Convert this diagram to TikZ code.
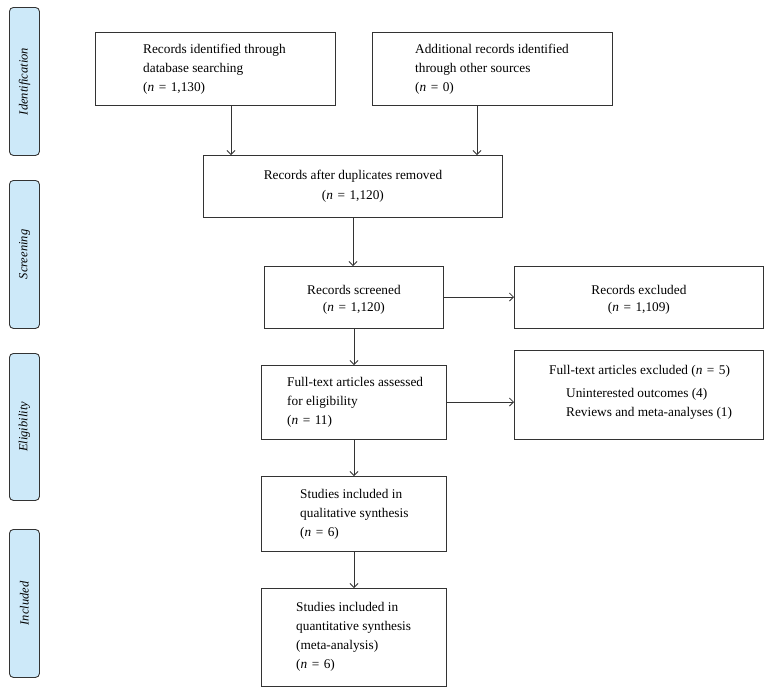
\documentclass[tikz,border=0pt]{standalone}
\usepackage{fontspec}
\setmainfont{Liberation Serif}
\usetikzlibrary{arrows.meta,positioning,calc}
\definecolor{sidefill}{HTML}{CDE9F9}
\definecolor{linegray}{HTML}{333333}
\newcommand\myeq{\hspace{4.5pt}=\hspace{4.5pt}}
\tikzset{
  box/.style={draw=linegray, line width=0.9pt, minimum width=#1, anchor=north west, inner sep=0pt},
  sidebox/.style={draw=linegray, line width=0.9pt, fill=sidefill, rounded corners=4pt, anchor=north west, inner sep=0pt, minimum width=30pt},
  sidetext/.style={rotate=90, font=\fontsize{12.5}{14}\selectfont\itshape},
  txt/.style={align=left, font=\fontsize{13.3}{19}\selectfont, inner sep=0pt},
  ctxt/.style={align=center, font=\fontsize{13.3}{19}\selectfont, inner sep=0pt},
  arr/.style={draw=linegray, line width=0.8pt, -{Straight Barb[length=4pt,width=8pt]}},
}
\begin{document}
\begin{tikzpicture}[x=1pt,y=-1pt]
\useasboundingbox (0,0) rectangle (772,694);
% side labels
\node[sidebox, minimum height=148pt] (s1) at (9,7) {};
\node[sidetext] (s1t) at (s1.center) {Identification};
\node[sidebox, minimum height=148pt] (s2) at (9,180) {};
\node[sidetext] (s2t) at (s2.center) {Screening};
\node[sidebox, minimum height=147pt] (s3) at (9,353) {};
\node[sidetext] (s3t) at (s3.center) {Eligibility};
\node[sidebox, minimum height=148pt] (s4) at (9,529) {};
\node[sidetext] (s4t) at (s4.center) {Included};
% boxes
\node[box=240pt, minimum height=73pt] (b1) at (95,32) {};
\node[txt, anchor=west] (b1t) at ($(b1.west)+(48,0)$) {Records identified through\\database searching\\(\textit{n}\myeq1,130)};
\node[box=240pt, minimum height=73pt] (b2) at (372,32) {};
\node[txt, anchor=west] (b2t) at ($(b2.west)+(43,0)$) {Additional records identified\\through other sources\\(\textit{n}\myeq0)};
\node[box=299pt, minimum height=62pt] (b3) at (203,155) {};
\node[ctxt, font=\fontsize{13.3}{20}\selectfont] (b3t) at (b3.center) {Records after duplicates removed\\(\textit{n}\myeq1,120)};
\node[box=179pt, minimum height=62pt] (b4) at (264,266) {};
\node[ctxt, font=\fontsize{13.3}{17}\selectfont] (b4t) at ($(b4.center)+(0,2)$) {Records screened\\(\textit{n}\myeq1,120)};
\node[box=249pt, minimum height=62pt] (b5) at (514,266) {};
\node[ctxt, font=\fontsize{13.3}{17}\selectfont] (b5t) at ($(b5.center)+(0,2)$) {Records excluded\\(\textit{n}\myeq1,109)};
\node[box=185pt, minimum height=74pt] (b6) at (261,365) {};
\node[txt, anchor=west] (b6t) at ($(b6.west)+(26,0)$) {Full-text articles assessed\\for eligibility\\(\textit{n}\myeq11)};
\node[box=249pt, minimum height=89pt] (b7) at (514,350) {};
\node[txt, anchor=north west] (b7t) at ($(b7.north west)+(35,15)$) {Full-text articles excluded (\textit{n}\myeq5)\\[4pt]\hspace*{17pt}Uninterested outcomes (4)\\\hspace*{17pt}Reviews and meta-analyses (1)};
\node[box=185pt, minimum height=75pt] (b8) at (261,476) {};
\node[txt, anchor=west] (b8t) at ($(b8.west)+(39,0)$) {Studies included in\\qualitative synthesis\\(\textit{n}\myeq6)};
\node[box=185pt, minimum height=98pt] (b9) at (261,588) {};
\node[txt, anchor=west] (b9t) at ($(b9.west)+(35,-1)$) {Studies included in\\quantitative synthesis\\(meta-analysis)\\(\textit{n}\myeq6)};
% connectors
\draw[arr] (b1.south -| 231,0) -- (b3.north -| 231,0);
\draw[arr] (b2.south -| 477,0) -- (b3.north -| 477,0);
\draw[arr] (b3.south -| 353,0) -- (b4.north -| 353,0);
\draw[arr] (b4.south -| 354,0) -- (b6.north -| 354,0);
\draw[arr] (b6.south -| 354,0) -- (b8.north -| 354,0);
\draw[arr] (b8.south -| 354,0) -- (b9.north -| 354,0);
\draw[arr] (b4.east |- 0,297) -- (b5.west |- 0,297);
\draw[arr] (b6.east |- 0,402) -- (b7.west |- 0,402);
\end{tikzpicture}
\end{document}
